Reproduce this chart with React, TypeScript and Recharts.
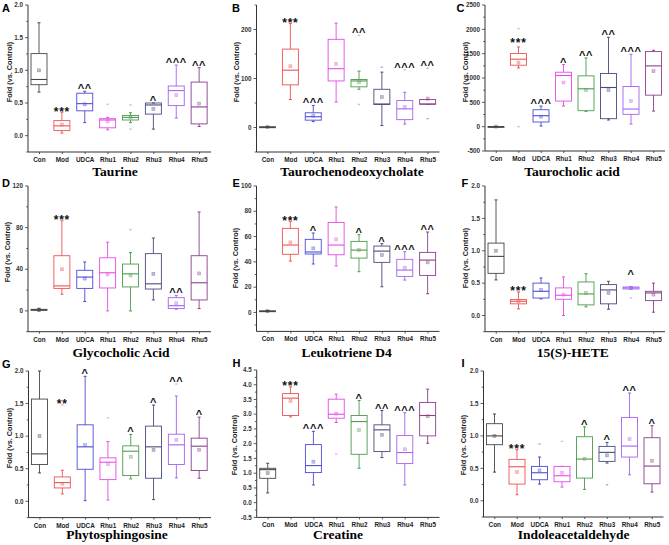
import React from "react";
import { ComposedChart, Bar, XAxis, YAxis } from "recharts";

const categories = ["Con", "Mod", "UDCA", "Rhu1", "Rhu2", "Rhu3", "Rhu4", "Rhu5"];
const groupColors = ["#474747", "#ee5252", "#4b4bd6", "#e64ae6", "#4c9a4c", "#4a4a7e", "#a463ee", "#8b3f8b"];

// box rows: [min, q1, median, q3, max, mean]
const taurineBox = [
  [0.667, 0.78, 0.86, 1.256, 1.728, 1.0],
  [0.04, 0.077, 0.15, 0.23, 0.36, 0.17],
  [0.2, 0.38, 0.49, 0.65, 0.68, 0.48],
  [0.09, 0.12, 0.24, 0.26, 0.28, 0.22],
  [0.2, 0.24, 0.28, 0.31, 0.35, 0.28],
  [0.1, 0.33, 0.47, 0.5, 0.5, 0.41],
  [0.27, 0.46, 0.69, 0.76, 1.08, 0.62],
  [0.14, 0.18, 0.44, 0.82, 1.04, 0.49],
];
const taurineOut = [[], [], [], [0.48], [0.47, 0.1], [], [], []];
const taurineSig = ["", "***", "^^", "", "", "^", "^^^", "^^"];

const tcdcaBox = [
  [0.5, 0.8, 1, 1.2, 1.5, 1],
  [57, 87, 117, 160, 212, 125],
  [12, 15, 22, 30, 45, 24],
  [52, 95, 120, 180, 213, 130],
  [78, 83, 95, 98, 115, 92],
  [4, 47, 48, 78, 113, 62],
  [7, 16, 38, 55, 72, 42],
  [47, 47.5, 48, 57, 57, 59],
];
const tcdcaOut = [[], [], [], [], [188, 47], [123], [118], [121, 18]];
const tcdcaSig = ["", "***", "^^^", "", "^^", "", "^^^", "^^"];

const tcaBox = [
  [0.5, 0.8, 1, 1.2, 1.5, 1],
  [1208, 1263, 1386, 1502, 1638, 1317],
  [14, 96, 225, 348, 423, 205],
  [423, 526, 1051, 1119, 1276, 908],
  [314, 328, 778, 1044, 1413, 751],
  [137, 164, 805, 1092, 1836, 751],
  [55, 253, 362, 826, 1488, 526],
  [321, 648, 1249, 1543, 1570, 1140],
];
const tcaOut = [[], [2014, 0], [], [], [], [], [], []];
const tcaSig = ["", "***", "^^^", "^", "^^", "^^", "^^^", ""];
const tcaSigAt = [null, 1700, null, null, null, null, null, null];

const gcaBox = [
  [0, 0.5, 1, 1.5, 2.5, 1],
  [16, 21.6, 24, 53, 86.6, 40],
  [9, 21.6, 32.5, 39, 47, 31],
  [0, 22, 36.6, 51, 66, 35],
  [0, 23, 35.6, 45, 56, 34],
  [10.5, 21, 26, 55, 70, 35.6],
  [1.6, 2.2, 5, 12.7, 15, 7.3],
  [2.2, 10.5, 27, 53, 95, 36],
];
const gcaOut = [[], [], [], [], [78], [], [], []];
const gcaSig = ["", "***", "", "", "", "", "^^", ""];

const ltd4Box = [
  [0.6, 0.8, 1, 1.2, 1.4, 1],
  [40.6, 46, 53.3, 66.5, 72, 55.4],
  [38.3, 46.2, 47.8, 57.8, 62.8, 50.7],
  [36.7, 45.6, 53.3, 71.2, 83.4, 57.8],
  [32.2, 43, 49.3, 56.2, 61.5, 49.3],
  [20.3, 39.6, 48.5, 52.5, 54.4, 45.4],
  [25.6, 28.5, 33.5, 42, 48, 35.4],
  [14.8, 29.3, 41.4, 47.5, 63.6, 39.6],
];
const ltd4Out = [[], [], [], [], [], [], [], []];
const ltd4Sig = ["", "***", "^", "", "^", "^", "^^^", "^^"];

const heteBox = [
  [0.549, 0.651, 0.913, 1.118, 1.785, 1.0],
  [0.103, 0.18, 0.22, 0.246, 0.364, 0.22],
  [0.256, 0.27, 0.374, 0.5, 0.58, 0.395],
  [0.0, 0.251, 0.313, 0.426, 0.595, 0.323],
  [0.133, 0.164, 0.333, 0.518, 0.646, 0.349],
  [0.097, 0.18, 0.395, 0.477, 0.528, 0.349],
  [0.405, 0.41, 0.426, 0.44, 0.446, 0.426],
  [0.051, 0.23, 0.349, 0.374, 0.5, 0.323],
];
const heteOut = [[], [], [], [], [], [], [0.27], []];
const heteSig = ["", "***", "", "", "", "", "^", ""];
const heteSigAt = [null, null, null, null, null, null, 0.6, null];

const phytoBox = [
  [0.436, 0.564, 0.728, 1.569, 2.0, 1.0],
  [0.113, 0.205, 0.287, 0.374, 0.477, 0.27],
  [0.01, 0.492, 0.836, 1.174, 1.918, 0.862],
  [0.02, 0.333, 0.6, 0.667, 0.918, 0.57],
  [0.344, 0.395, 0.769, 0.851, 1.026, 0.682],
  [0.026, 0.354, 0.836, 1.154, 1.477, 0.79],
  [0.359, 0.564, 0.867, 1.03, 1.615, 0.944],
  [0.354, 0.472, 0.846, 0.969, 1.292, 0.79],
];
const phytoOut = [[], [1.48], [], [1.28], [], [], [1.8], []];
const phytoSig = ["", "**", "^", "", "^", "^", "^^", "^"];

const creatineBox = [
  [0.33, 0.826, 1.12, 1.166, 1.336, 1.0],
  [2.91, 2.956, 3.545, 3.7, 3.93, 3.45],
  [0.6, 1.02, 1.257, 1.97, 2.42, 1.39],
  [2.72, 2.865, 3.0, 3.51, 3.68, 3.02],
  [1.166, 1.64, 2.75, 2.956, 3.465, 2.46],
  [1.53, 1.733, 2.47, 2.64, 3.126, 2.3],
  [0.6, 1.325, 1.7, 2.276, 3.05, 1.81],
  [2.016, 2.265, 2.956, 3.4, 3.85, 2.93],
];
const creatineOut = [[], [], [], [1.65], [], [], [], []];
const creatineSig = ["", "***", "^^^", "", "^", "^^", "^^^", ""];

const indoleBox = [
  [0.442, 0.864, 1.0, 1.188, 1.337, 1.0],
  [0.093, 0.257, 0.524, 0.638, 0.787, 0.442],
  [0.257, 0.324, 0.432, 0.53, 0.674, 0.468],
  [0.211, 0.293, 0.386, 0.53, 0.53, 0.432],
  [0.175, 0.35, 0.643, 0.987, 1.14, 0.648],
  [0.581, 0.607, 0.746, 0.838, 0.9, 0.7],
  [0.4, 0.674, 0.843, 1.285, 1.66, 0.951],
  [0.134, 0.262, 0.535, 0.972, 1.157, 0.617],
];
const indoleOut = [[], [], [0.874], [0.915], [], [0.247], [], []];
const indoleSig = ["", "***", "", "", "^", "^", "^^", "^"];

const panels = [
  { letter: "A", title: "Taurine", box: taurineBox, out: taurineOut, sig: taurineSig, sigAt: null,
    x0: 0, axisX: 28, right: 211, top: 5, bottom: 152, domain: [-0.25, 2], major: 0.5, minor: 0.25, dec: 1,
    titleX: 115, titleY: 175.5, labelX: 9.5, labelY: 72, letterX: 2, letterY: 11.5 },
  { letter: "B", title: "Taurochenodeoxycholate", box: tcdcaBox, out: tcdcaOut, sig: tcdcaSig, sigAt: null,
    x0: 220, axisX: 256.5, right: 439.5, top: 5, bottom: 152, domain: [-50, 250], major: 100, minor: 50, dec: 0,
    titleX: 352, titleY: 175.5, labelX: 236.3, labelY: 72, letterX: 232, letterY: 11.5 },
  { letter: "C", title: "Taurocholic acid", box: tcaBox, out: tcaOut, sig: tcaSig, sigAt: tcaSigAt,
    x0: 440, axisX: 485, right: 665, top: 5, bottom: 151, domain: [-500, 2500], major: 500, minor: 250, dec: 0,
    titleX: 572, titleY: 175.5, labelX: 465, labelY: 72, letterX: 456.5, letterY: 11.5 },
  { letter: "D", title: "Glycocholic Acid", box: gcaBox, out: gcaOut, sig: gcaSig, sigAt: null,
    x0: 0, axisX: 28, right: 211, top: 186, bottom: 331.7, domain: [-20, 120], major: 40, minor: 20, dec: 0,
    titleX: 121, titleY: 356.7, labelX: 7, labelY: 252, letterX: 2, letterY: 186.7 },
  { letter: "E", title: "Leukotriene D4", box: ltd4Box, out: ltd4Out, sig: ltd4Sig, sigAt: null,
    x0: 220, axisX: 256.5, right: 439.5, top: 186.3, bottom: 331.7, domain: [-15, 100], major: 20, minor: 10, dec: 0,
    titleX: 346.7, titleY: 356.7, labelX: 235.5, labelY: 258, letterX: 232.5, letterY: 186.7 },
  { letter: "F", title: "15(S)-HETE", box: heteBox, out: heteOut, sig: heteSig, sigAt: heteSigAt,
    x0: 440, axisX: 485, right: 665, top: 186, bottom: 331.7, domain: [-0.25, 2], major: 0.5, minor: 0.25, dec: 1,
    titleX: 572.7, titleY: 356.7, labelX: 465.5, labelY: 258, letterX: 461.5, letterY: 186.7 },
  { letter: "G", title: "Phytosphingosine", box: phytoBox, out: phytoOut, sig: phytoSig, sigAt: null,
    x0: 0, axisX: 28.5, right: 211, top: 370.7, bottom: 517.3, domain: [-0.25, 2], major: 0.5, minor: 0.25, dec: 1,
    titleX: 117, titleY: 539.3, labelX: 9.3, labelY: 438, letterX: 2, letterY: 367.7 },
  { letter: "H", title: "Creatine", box: creatineBox, out: creatineOut, sig: creatineSig, sigAt: null,
    x0: 220, axisX: 256.7, right: 439.5, top: 370.3, bottom: 517.7, domain: [-0.5, 4.5], major: 0.5, minor: 0.25, dec: 1,
    titleX: 338, titleY: 539.3, labelX: 234.7, labelY: 445, letterX: 232.5, letterY: 366.7 },
  { letter: "I", title: "Indoleacetaldehyde", box: indoleBox, out: indoleOut, sig: indoleSig, sigAt: null,
    x0: 440, axisX: 483.5, right: 663.5, top: 371.3, bottom: 517.3, domain: [-0.25, 2], major: 0.5, minor: 0.25, dec: 1,
    titleX: 573.7, titleY: 539.3, labelX: 463.3, labelY: 445, letterX: 461.5, letterY: 366.7 },
];

const SANS = "'Liberation Sans', Arial, sans-serif";
const SERIF = "'Liberation Serif', 'Times New Roman', serif";
const TOP_PAD = 10;
const XAXIS_H = 18;

function BoxShape(props: any) {
  const { x, y, width, height, payload } = props;
  if (!payload) return null;
  const [lo, hi] = payload.range;
  const top = Math.min(y, y + height);
  const h = Math.abs(height);
  const py = (v: number) => top + ((hi - v) / (hi - lo)) * h;
  const [mn, q1, med, q3, mx, mean] = payload.b;
  const c = payload.color;
  const cx = x + width / 2;
  const sigY = py(payload.sigAt);
  const isStar = payload.sig.startsWith("*");
  return (
    <g>
      <line x1={cx} x2={cx} y1={py(q3)} y2={py(mx)} stroke={c} strokeWidth={0.9} />
      <line x1={cx} x2={cx} y1={py(q1)} y2={py(mn)} stroke={c} strokeWidth={0.9} />
      <line x1={cx - 1.5} x2={cx + 1.5} y1={py(mx)} y2={py(mx)} stroke={c} strokeWidth={1} />
      <line x1={cx - 1.5} x2={cx + 1.5} y1={py(mn)} y2={py(mn)} stroke={c} strokeWidth={1} />
      <rect x={x} y={py(q3)} width={width} height={Math.max(0.8, py(q1) - py(q3))} fill="none" stroke={c} strokeWidth={0.9} />
      <line x1={x} x2={x + width} y1={py(med)} y2={py(med)} stroke={c} strokeWidth={1.1} />
      <rect x={cx - 1.5} y={py(mean) - 1.5} width={3} height={3} fill={c} fillOpacity={0.35} stroke={c} strokeOpacity={0.45} strokeWidth={0.6} />
      {payload.o.map((v: number, k: number) => (
        <rect key={k} x={cx - 1.2} y={py(v) - 0.7} width={2.4} height={1.4} fill={c} fillOpacity={0.45} />
      ))}
      {payload.sig && (
        <text
          x={cx}
          y={isStar ? sigY + 3.5 : sigY + 1}
          textAnchor="middle"
          fontFamily={SANS}
          fontWeight="bold"
          fontSize={isStar ? 12 : 11}
          letterSpacing={isStar ? 0.8 : 0.6}
          fill="#111"
        >
          {payload.sig}
        </text>
      )}
    </g>
  );
}

function Panel({ p }: { p: any }) {
  const rows = categories.map((name, i) => {
    const b = p.box[i];
    const o = p.out[i] || [];
    const all = [...b, ...o];
    const lo = Math.min(...all);
    let hi = Math.max(...all);
    if (hi - lo < 1e-9) hi = lo + 1e-6;
    const anchor = p.sigAt && p.sigAt[i] != null ? p.sigAt[i] : Math.max(b[4], ...o);
    return { name, range: [lo, hi], b, o, sig: p.sig[i], sigAt: anchor, color: groupColors[i] };
  });

  const ticks: number[] = [];
  const start = Math.ceil(p.domain[0] / p.minor - 1e-9) * p.minor;
  for (let v = start; v <= p.domain[1] + 1e-9; v += p.minor) ticks.push(Math.round(v * 1000) / 1000);

  const yw = p.axisX - p.x0;
  const chartW = p.right - p.x0 + 4;
  const plotH = p.bottom - p.top;
  const chartH = TOP_PAD + plotH + XAXIS_H;
  const axisYRel = TOP_PAD + plotH;

  const renderYTick = (tp: any) => {
    const v = tp.payload.value;
    const isMajor = Math.abs(v / p.major - Math.round(v / p.major)) < 1e-6;
    return (
      <g>
        <line x1={yw - (isMajor ? 3 : 1.8)} x2={yw} y1={tp.y} y2={tp.y} stroke="#333" strokeWidth={0.8} />
        {isMajor && (
          <text x={yw - 5} y={tp.y} dy="0.35em" textAnchor="end" fontFamily={SANS} fontWeight="bold" fontSize={6.3} fill="#333">
            {v.toFixed(p.dec)}
          </text>
        )}
      </g>
    );
  };

  const renderXTick = (tp: any) => (
    <g>
      <line x1={tp.x} x2={tp.x} y1={axisYRel} y2={axisYRel + 2} stroke="#333" strokeWidth={0.8} />
      <text x={tp.x} y={axisYRel + 10} textAnchor="middle" fontFamily={SANS} fontWeight="bold" fontSize={6.4} fill="#222">
        {tp.payload.value}
      </text>
    </g>
  );

  return (
    <div style={{ position: "absolute", left: p.x0, top: p.top - TOP_PAD }}>
      <ComposedChart
        width={chartW}
        height={chartH}
        data={rows}
        margin={{ top: TOP_PAD, right: 4, bottom: 0, left: 0 }}
      >
        <XAxis
          dataKey="name"
          type="category"
          interval={0}
          height={XAXIS_H}
          tick={renderXTick}
          tickLine={false}
          axisLine={{ stroke: "#333", strokeWidth: 1 }}
        />
        <YAxis
          type="number"
          domain={p.domain}
          ticks={ticks}
          interval={0}
          width={yw}
          tick={renderYTick}
          tickLine={false}
          axisLine={{ stroke: "#333", strokeWidth: 1 }}
        />
        <Bar dataKey="range" barSize={16} isAnimationActive={false} shape={BoxShape} />
      </ComposedChart>
    </div>
  );
}

export default function App() {
  return (
    <div style={{ position: "absolute", left: 0, top: 0, width: 669, height: 545, background: "#fff", overflow: "hidden" }}>
      {panels.map((p) => (
        <Panel key={p.letter} p={p} />
      ))}
      <svg width={669} height={545} style={{ position: "absolute", left: 0, top: 0, pointerEvents: "none" }}>
        {panels.map((p) => (
          <g key={p.letter}>
            <text x={p.letterX} y={p.letterY} fontFamily={SANS} fontWeight="bold" fontSize={11} fill="#000">
              {p.letter}
            </text>
            <text x={p.titleX} y={p.titleY} textAnchor="middle" fontFamily={SERIF} fontWeight="bold" fontSize={13.5} fill="#000">
              {p.title}
            </text>
            <text
              x={p.labelX}
              y={p.labelY}
              transform={`rotate(-90 ${p.labelX} ${p.labelY})`}
              textAnchor="middle"
              dominantBaseline="central"
              fontFamily={SANS}
              fontWeight="bold"
              fontSize={7.3}
              fill="#222"
            >
              Fold (vs. Control)
            </text>
          </g>
        ))}
      </svg>
    </div>
  );
}
